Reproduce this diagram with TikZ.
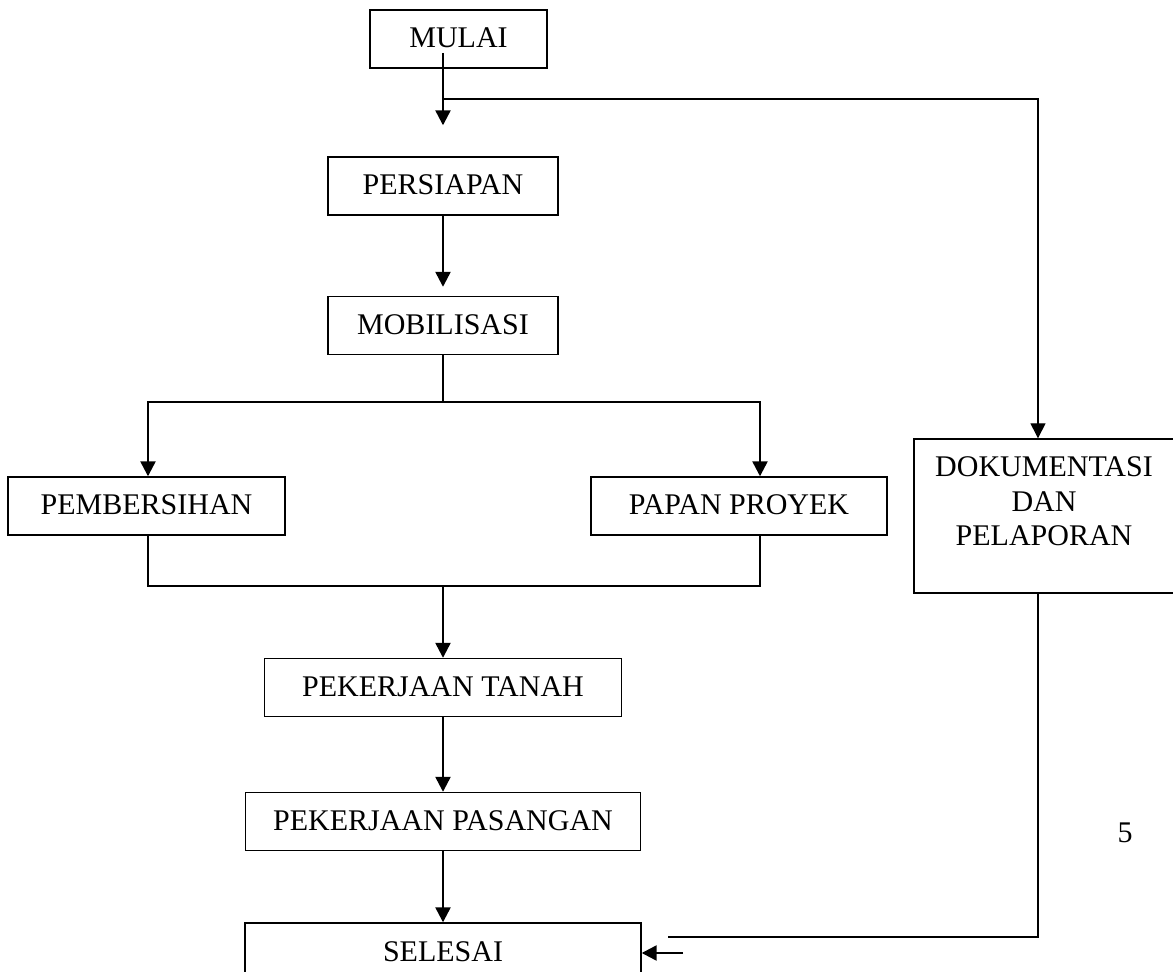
\documentclass[tikz,border=0pt]{standalone}
\usepackage{fontspec}
\setmainfont{Liberation Serif}
\usetikzlibrary{arrows.meta}

\begin{document}
\begin{tikzpicture}[
            x=0.5pt, y=-0.5pt,
            box/.style={
                draw=black,
                rectangle,
                inner sep=0pt,
                minimum height=29pt,
                align=center,
                line width=0.7pt,
                font=\fontsize{15pt}{17.5pt}\selectfont,
                text height=10pt,
                text depth=1pt
            },
            mainbox/.style={box, minimum width=115pt},
            widebox/.style={box, minimum width=198pt},
            sidebox/.style={box, minimum width=148pt},
            label/.style={inner sep=0pt, align=center, font=\fontsize{15pt}{17.25pt}\selectfont},
            flow/.style={line width=1.2pt, -{Triangle[width=7.5pt,length=7.5pt]}},
            link/.style={line width=1.2pt},
            thinflow/.style={line width=0.7pt, -{Triangle[width=7.5pt,length=7.5pt]}},
            thinlink/.style={line width=0.7pt}
        ]
        \useasboundingbox (0,0) rectangle (1173,972);
        \clip (0,0) rectangle (1173,972);

        \node[box, minimum width=88.5pt]        (mulai)       at (458.5, 39)   {MULAI};
        \node[mainbox]                          (persiapan)   at (443, 186)    {PERSIAPAN};
        \node[mainbox]                          (mobilisasi)  at (443, 325.5)  {MOBILISASI};
        \node[box, minimum width=138.5pt]       (pembersihan) at (146.5, 506)  {PEMBERSIHAN};
        \node[sidebox]                          (papan)       at (739, 506)    {PAPAN PROYEK};
        \node[box, minimum width=178.5pt]       (tanah)       at (443, 687.5)  {PEKERJAAN TANAH};
        \node[box, minimum width=197.5pt]       (pasangan)    at (443, 821.5)  {PEKERJAAN PASANGAN};
        \node[widebox]                          (selesai)     at (443, 952)    {SELESAI};
        \node[box, minimum width=133pt, minimum height=77pt] (dok) at (1047, 516) {};
        \node[label, anchor=north]              (doktext)     at ([xshift=-1.5pt, yshift=-9pt]dok.north) {DOKUMENTASI\\DAN\\PELAPORAN};
        \node[label]                            (pagenum)     at (1125, 833)   {5};

        \coordinate (split) at (443, 99);
        \coordinate (fork)  at (443, 402);
        \coordinate (join)  at (443, 586);
        \coordinate (loopend) at (668, 937);
        \coordinate (back)  at (683, 953);

        \draw[flow, shorten >=15.5pt] ([xshift=-7.75pt, yshift=-7pt]mulai.center) -- (persiapan.north);
        \draw[thinflow] (split) -| ([xshift=-4.5pt]dok.north);
        \draw[flow, shorten >=4.5pt] (persiapan.south) -- (mobilisasi.north);

        \draw[link] (mobilisasi.south) -- (fork);
        \draw[flow] (fork) -| ([xshift=0.75pt]pembersihan.north);
        \draw[flow] (fork) -| ([xshift=10.5pt]papan.north);

        \draw[link] ([xshift=0.75pt]pembersihan.south) |- (join) -| ([xshift=10.5pt]papan.south);
        \draw[flow] (join) -- (join |- tanah.north);

        \draw[flow] (tanah.south) -- (pasangan.north);
        \draw[flow] (pasangan.south) -- (selesai.north);

        \draw[thinlink] ([xshift=-4.5pt]dok.south) |- (loopend);
        \draw[flow] (back) -- (back -| selesai.east);
        \end{tikzpicture}
\end{document}
